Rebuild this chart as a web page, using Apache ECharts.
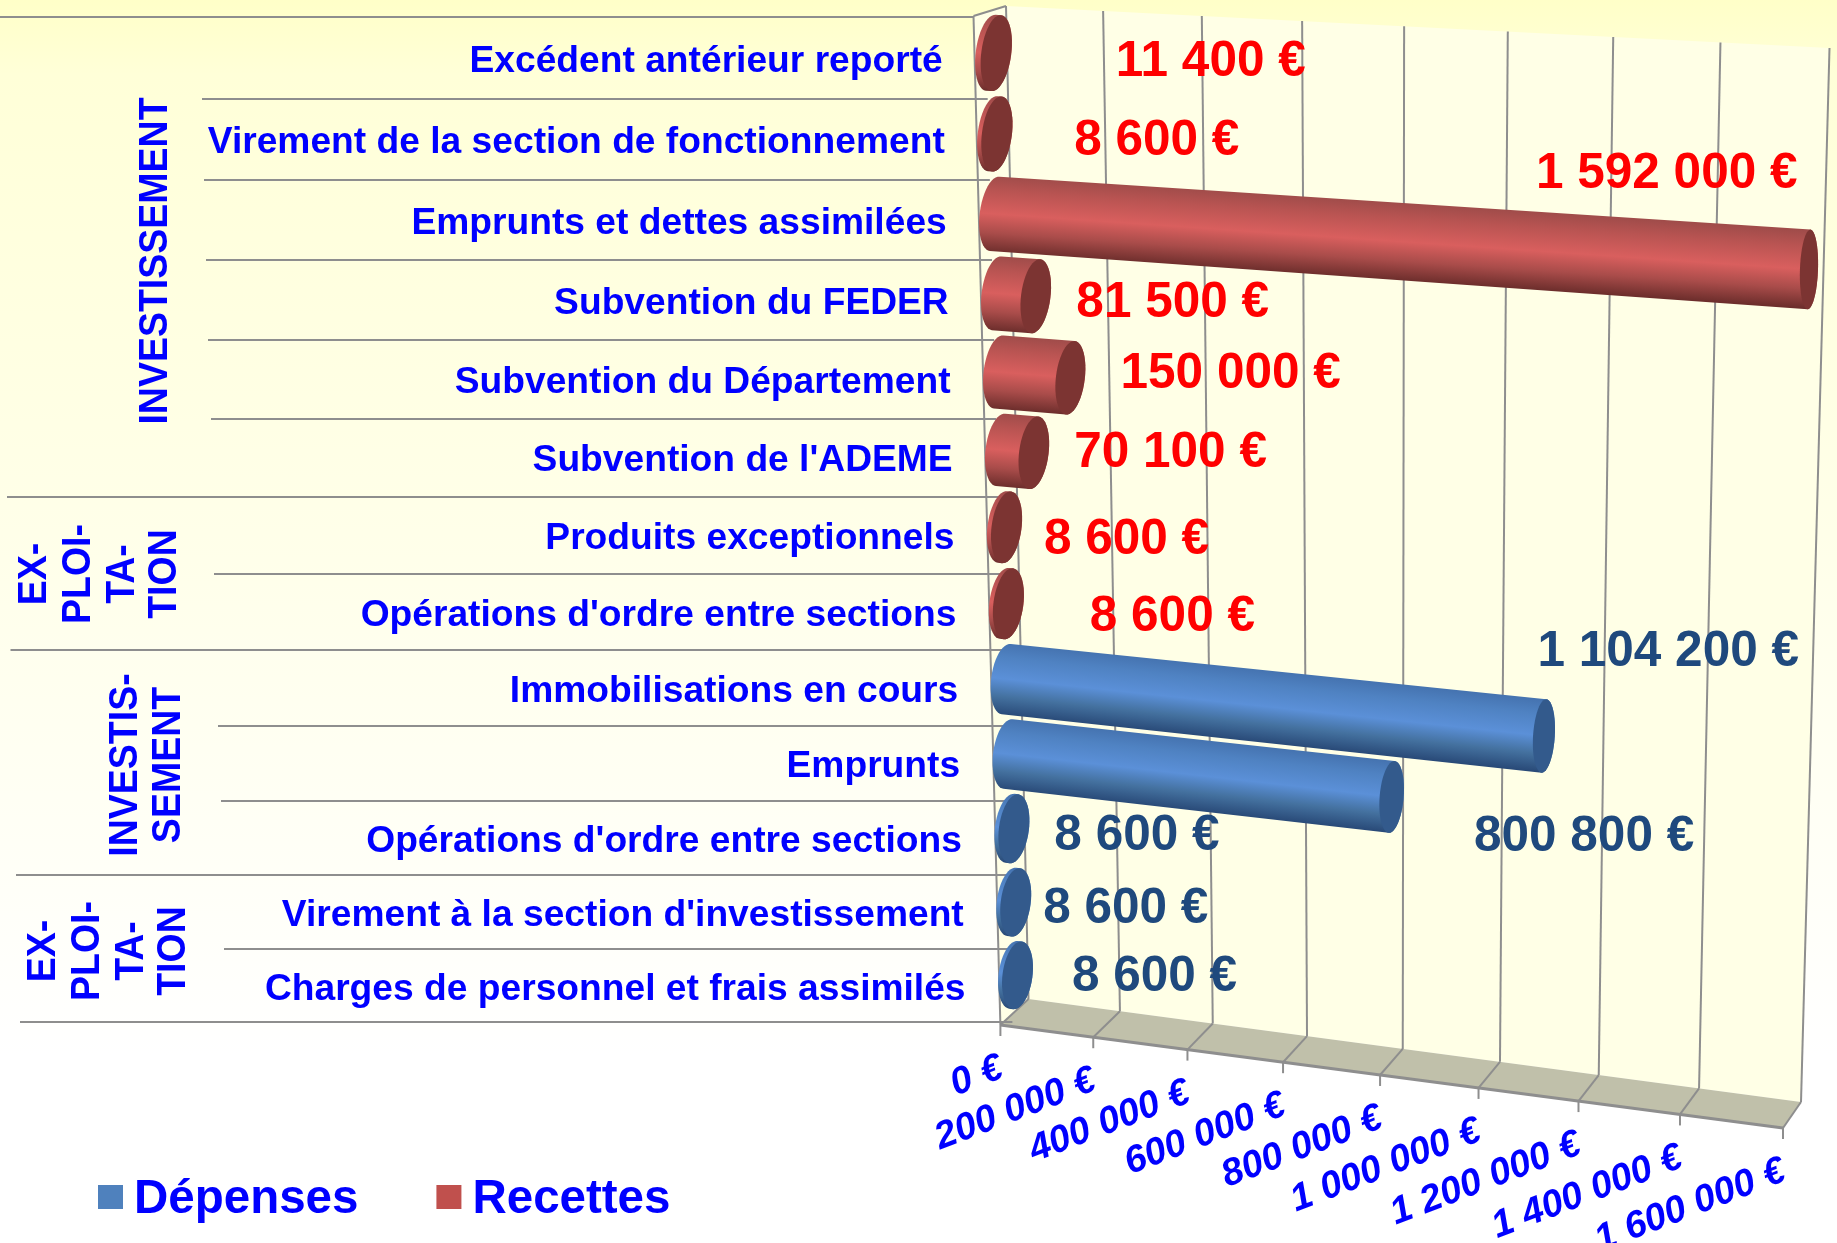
<!DOCTYPE html>
<html><head><meta charset="utf-8">
<style>html,body{margin:0;padding:0;background:#fff}#c{width:1837px;height:1243px}</style>
<script src="https://cdn.jsdelivr.net/npm/echarts@6/dist/echarts.min.js"></script>
</head><body><div id="c"></div>
<script>
// ---- data ----
const categories = ["Excédent antérieur reporté","Virement de la section de fonctionnement","Emprunts et dettes assimilées","Subvention du FEDER","Subvention du Département","Subvention de l'ADEME","Produits exceptionnels","Opérations d'ordre entre sections","Immobilisations en cours","Emprunts","Opérations d'ordre entre sections","Virement à la section d'investissement","Charges de personnel et frais assimilés"];
const recettes = [11400,8600,1592000,81500,150000,70100,8600,8600,null,null,null,null,null];
const depenses = [null,null,null,null,null,null,null,null,1104200,800800,8600,8600,8600];
const xTicks = [0,200000,400000,600000,800000,1000000,1200000,1400000,1600000];
const xTickLabels = ["0 €","200 000 €","400 000 €","600 000 €","800 000 €","1 000 000 €","1 200 000 €","1 400 000 €","1 600 000 €"];
const valueLabels = ["11 400 €","8 600 €","1 592 000 €","81 500 €","150 000 €","70 100 €","8 600 €","8 600 €","1 104 200 €","800 800 €","8 600 €","8 600 €","8 600 €"];
const seriesNames = ["Dépenses","Recettes"];
const groupTitles = [["INVESTISSEMENT"],["EX-","PLOI-","TA-","TION"],["INVESTIS-","SEMENT"],["EX-","PLOI-","TA-","TION"]];

// ---- layout (perspective of the 3D box, label placement) ----
const FONT='"Liberation Sans", Arial, sans-serif';
const backQuad=[[1006,6],[1829.5,48],[1801,1102],[1028.5,999]];
const frontQuad=[[973.5,16],[1808,60],[1783,1128],[1000.4,1025]];
const midQuad=backQuad.map((p,i)=>[(p[0]+frontQuad[i][0])/2,(p[1]+frontQuad[i][1])/2+(i<2?1:-1)]);
const GX=990,GY=11,GW=830,GH=1000;
const labelOffsets=[[220,10],[164,8],[672,-40],[176,10],[232,2],[170,3],[124,13],[168,14],[662,-27],[576,83],[127,8],[114,7],[141,3]];
const hLineLeft=[0,202,204,206,208,211,7,214,10.5,218,221,16,224,20];
const groupPos=[[[156,261]],[[35,574],[78.5,574],[122.5,574],[164.5,574]],[[126,765],[169,765]],[[44,951],[87.5,951],[131.5,951],[173.5,951]]];

function quadMap(q){
  const [[x0,y0],[x1,y1],[x2,y2],[x3,y3]]=q;
  const dx1=x1-x2,dx2=x3-x2,sx=x0-x1+x2-x3,dy1=y1-y2,dy2=y3-y2,sy=y0-y1+y2-y3;
  const den=dx1*dy2-dx2*dy1,g=(sx*dy2-dx2*sy)/den,h=(dx1*sy-sx*dy1)/den;
  const a=x1-x0+g*x1,b=x3-x0+h*x3,d=y1-y0+g*y1,e=y3-y0+h*y3;
  return (u,w)=>{const k=g*u+h*w+1;return [(a*u+b*w+x0)/k,(d*u+e*w+y0)/k];};
}
const backM=quadMap(backQuad),frontM=quadMap(frontQuad),midM=quadMap(midQuad);
const norm=p=>[(p[0]-GX)/GW,(p[1]-GY)/GH];

const RED={cap:'#7c3432',stops:[[0,'#a04c4a'],[.2,'#b95452'],[.5,'#d95f5e'],[.75,'#a94c4a'],[1,'#6d2e2c']]};
const BLUE={cap:'#335a8c',stops:[[0,'#4573b0'],[.2,'#4f82c2'],[.5,'#5b90d8'],[.75,'#44719f'],[1,'#294a78']]};

function ell(c,rx,ry,deg,th){
  const a=deg*Math.PI/180,x=rx*Math.cos(th),y=-ry*Math.sin(th);
  return [c[0]+x*Math.cos(a)-y*Math.sin(a),c[1]+x*Math.sin(a)+y*Math.cos(a)];
}
function cylinder(pal){
  return function(params,api){
    const v=api.value(0),idx=api.value(1);
    const c1=api.coord([v,idx]),c0=api.coord([0,idx]);
    const band=api.size([0,1])[1]/GH*0.47;
    const [u,w]=norm(c1),[u0]=norm(c0);
    const p0=midM(u0,w),p1=midM(u,w);
    const r=(uu)=>{const a=midM(uu,w-band),b=midM(uu,w+band);return Math.hypot(a[0]-b[0],a[1]-b[1])/2;};
    const r0=r(u0),r1=r(u),t=v/1600000;
    const rx=15-6*t,tilt0=7.5,tilt1=7.5-5.5*t,pts=[],cap=[];
    for(let i=0;i<=24;i++)pts.push(ell(p1,rx,r1,tilt1,Math.PI/2-i/24*Math.PI));
    for(let i=0;i<=24;i++)pts.push(ell(p0,15,r0,tilt0,-Math.PI/2-i/24*Math.PI));
    for(let i=0;i<48;i++)cap.push(ell(p1,rx,r1,tilt1,i/48*2*Math.PI));
    const mid=[(p0[0]+p1[0])/2,(p0[1]+p1[1])/2],L=Math.hypot(p1[0]-p0[0],p1[1]-p0[1])||1;
    const nx=-(p1[1]-p0[1])/L,ny=(p1[0]-p0[0])/L,rm=(r0+r1)/2;
    const grad={type:'linear',global:true,x:mid[0]-nx*rm,y:mid[1]-ny*rm,x2:mid[0]+nx*rm,y2:mid[1]+ny*rm,
      colorStops:pal.stops.map(s=>({offset:s[0],color:s[1]}))};
    return {type:'group',children:[
      {type:'polygon',shape:{points:pts},style:{fill:grad}},
      {type:'polygon',shape:{points:cap},style:{fill:pal.cap}}
    ]};
  };
}
function sceneItem(params,api){
  const val=api.value(0),i=params.dataIndex;
  const [u]=norm(api.coord([val,0]));
  const grey='#8e8e8e',kids=[];
  const t=backM(u,0),b=backM(u,1),f=frontM(u,1);
  const ln=(a,c,lw)=>({type:'line',shape:{x1:a[0],y1:a[1],x2:c[0],y2:c[1]},style:{stroke:grey,lineWidth:lw||2}});
  if(i===0){
    kids.push({type:'polygon',shape:{points:[backM(0,0),backM(1,0),backM(1,1),backM(0,1)]},style:{fill:'#ffffe6'}});
    kids.push({type:'polygon',shape:{points:[frontM(0,0),backM(0,0),backM(0,1),frontM(0,1)]},style:{fill:'#ffffe6'}});
    kids.push({type:'polygon',shape:{points:[backM(0,1),backM(1,1),frontM(1,1),frontM(0,1)]},style:{fill:'#c0c0aa'}});
    kids.push(ln(frontM(0,0),frontM(0,1)));
    kids.push(ln(frontM(0,0),backM(0,0)));
    kids.push(ln(frontM(0,1),frontM(1,1),3));
  }
  kids.push(ln(t,b)); kids.push(ln(b,f));
  kids.push(ln(f,[f[0],f[1]+11]));
  kids.push({type:'text',x:f[0]+1,y:f[1]+42,rotation:21*Math.PI/180,
    style:{text:xTickLabels[i],x:0,y:0,align:'right',verticalAlign:'middle',fill:'#0000ff',fontFamily:FONT,fontWeight:'bold',fontStyle:'italic',fontSize:38}});
  return {type:'group',children:kids};
}
function valueLabelItem(params,api){
  const idx=api.value(1),o=labelOffsets[idx];
  const p=midM.apply(null,norm(api.coord([0,idx])));
  return {type:'text',x:p[0]+o[0],y:p[1]+o[1],style:{text:valueLabels[idx],x:0,y:0,align:'center',verticalAlign:'middle',
    fill:idx<8?'#ff0000':'#1f497d',fontFamily:FONT,fontWeight:'bold',fontSize:49.5}};
}
function catLabelItem(params,api){
  const idx=api.value(1);
  const p=midM.apply(null,norm(api.coord([0,idx])));
  return {type:'text',x:p[0]-48,y:p[1]+8.5+idx*0.5,style:{text:categories[idx],x:0,y:0,align:'right',verticalAlign:'middle',
    fill:'#0000ff',fontFamily:FONT,fontWeight:'bold',fontSize:37.2}};
}
const graphics=[];
hLineLeft.forEach((x,i)=>{
  const p=frontM(0,i/13),y=Math.round(p[1]+1-4*i/13);
  graphics.push({type:'line',z:2,shape:{x1:x,y1:y,x2:p[0]+(i===0?0:12),y2:y},style:{stroke:'#8e8e8e',lineWidth:2}});
});
groupTitles.forEach((lines,g)=>lines.forEach((s,j)=>{
  const q=groupPos[g][j];
  graphics.push({type:'text',z:6,x:q[0],y:q[1],rotation:Math.PI/2,scaleY:1.1,
    style:{text:s,x:0,y:0,align:'center',verticalAlign:'middle',fill:'#0000ff',fontFamily:FONT,fontWeight:'bold',fontSize:37.5}});
}));

const rows=categories.map((c,i)=>[0,i]);
const chart=echarts.init(document.getElementById('c'));
chart.setOption({
  animation:false,
  backgroundColor:{type:'linear',x:0,y:0,x2:0,y2:1,colorStops:[{offset:0,color:'#ffffc8'},{offset:.06,color:'#ffffd8'},{offset:.45,color:'#ffffea'},{offset:.85,color:'#ffffff'},{offset:1,color:'#ffffff'}]},
  grid:{left:GX,top:GY,width:GW,height:GH},
  xAxis:{type:'value',min:0,max:1600000,interval:200000,show:false},
  yAxis:{type:'category',data:categories,inverse:true,show:false},
  legend:{data:seriesNames,left:93,top:1171,itemWidth:25,itemHeight:30,itemGap:78,selectedMode:false,
    icon:'path://M0 0H25V24H0Z M0 30L0.01 30',
    textStyle:{color:'#0000ff',fontFamily:FONT,fontWeight:'bold',fontSize:47.5,padding:[0,0,0,6]}},
  graphic:graphics,
  series:[
    {type:'custom',name:'axes',z:1,coordinateSystem:'cartesian2d',renderItem:sceneItem,encode:{x:0},data:xTicks.map(v=>[v,0]),silent:true},
    {type:'custom',name:seriesNames[0],z:3,itemStyle:{color:'#4f81bd'},renderItem:cylinder(BLUE),encode:{x:0,y:1},
      data:depenses.map((v,i)=>[v,i]).filter(d=>d[0]!==null)},
    {type:'custom',name:seriesNames[1],z:3,itemStyle:{color:'#c0504d'},renderItem:cylinder(RED),encode:{x:0,y:1},
      data:recettes.map((v,i)=>[v,i]).filter(d=>d[0]!==null)},
    {type:'custom',name:'catLabels',z:5,renderItem:catLabelItem,encode:{x:0,y:1},data:rows,silent:true},
    {type:'custom',name:'valueLabels',z:5,renderItem:valueLabelItem,encode:{x:0,y:1},data:rows,silent:true}
  ]
});
</script></body></html>
